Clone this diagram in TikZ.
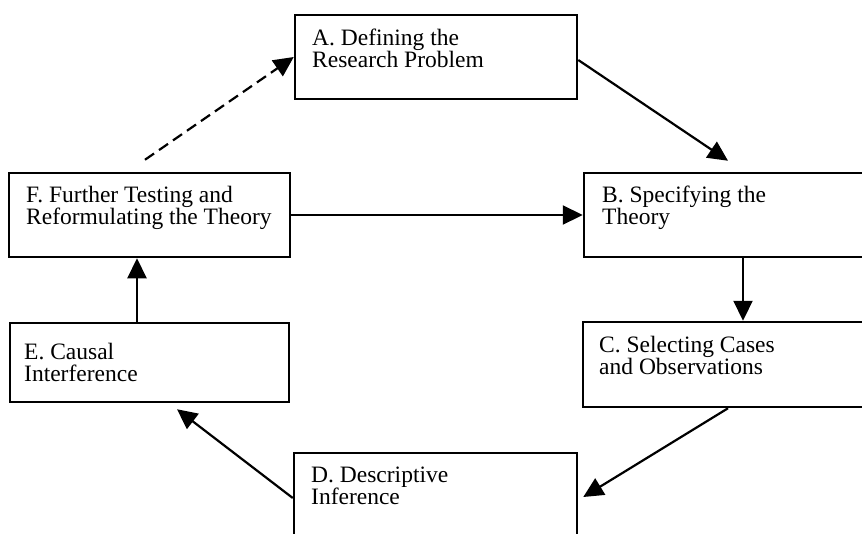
\documentclass[tikz,border=0pt]{standalone}
\usepackage{fontspec}
\setmainfont{Liberation Serif}
\usetikzlibrary{arrows.meta}
\tikzset{
  box/.style={draw=black, line width=2.5pt, fill=white, rectangle, inner sep=0pt},
  txt/.style={anchor=base west, inner sep=0pt, align=left, font=\fontsize{23.5}{22}\selectfont},
  conn/.style={line width=2.2pt, -{Triangle[length=20pt, width=19pt]}},
  dashconn/.style={conn, dash pattern=on 11pt off 6pt},
}
\begin{document}
\begin{tikzpicture}[x=1pt, y=-1pt]
\useasboundingbox (0,0) rectangle (862,533);
\clip (0,0) rectangle (862,533);
\fill[white] (0,0) rectangle (862,533);
% boxes
\node[box, minimum width=282pt, minimum height=84pt] (A) at (436,57) {};
\node[box, minimum width=296pt, minimum height=84pt] (B) at (732,215) {};
\node[box, minimum width=297pt, minimum height=85pt] (C) at (731.5,364.5) {};
\node[box, minimum width=283pt, minimum height=100pt] (D) at (435.5,503) {};
\node[box, minimum width=279pt, minimum height=79pt] (E) at (149.5,362.5) {};
\node[box, minimum width=281pt, minimum height=84pt] (F) at (149.5,215) {};
% texts (anchor = baseline of the last line)
\node[txt] (At) at (312,67) {A. Defining the\\Research Problem};
\node[txt] (Bt) at (602,224) {B. Specifying the\\Theory};
\node[txt] (Ct) at (599,374) {C. Selecting Cases\\and Observations};
\node[txt] (Dt) at (311,504) {D. Descriptive\\Inference};
\node[txt] (Et) at (24,381) {E. Causal\\Interference};
\node[txt] (Ft) at (26,224) {F. Further Testing and\\Reformulating the Theory};
% connectors
\draw[dashconn] ([xshift=-4.5pt, yshift=12pt]F.north) -- (A.west);
\draw[conn] ([yshift=-3pt]A.east) -- ([xshift=-4pt, yshift=11pt]B.north);
\draw[conn] (F.east) -- (B.west);
\draw[conn] ([xshift=11pt]B.south) -- ([xshift=11.5pt]C.north);
\draw[conn] ([xshift=-3.5pt]C.south) -- ([xshift=5pt, yshift=6pt]D.east);
\draw[conn] ([yshift=5pt]D.west) -- ([xshift=27.5pt, yshift=-6pt]E.south);
\draw[conn] ([xshift=-12.5pt]E.north) -- ([xshift=-12.5pt]F.south);
\end{tikzpicture}
\end{document}
